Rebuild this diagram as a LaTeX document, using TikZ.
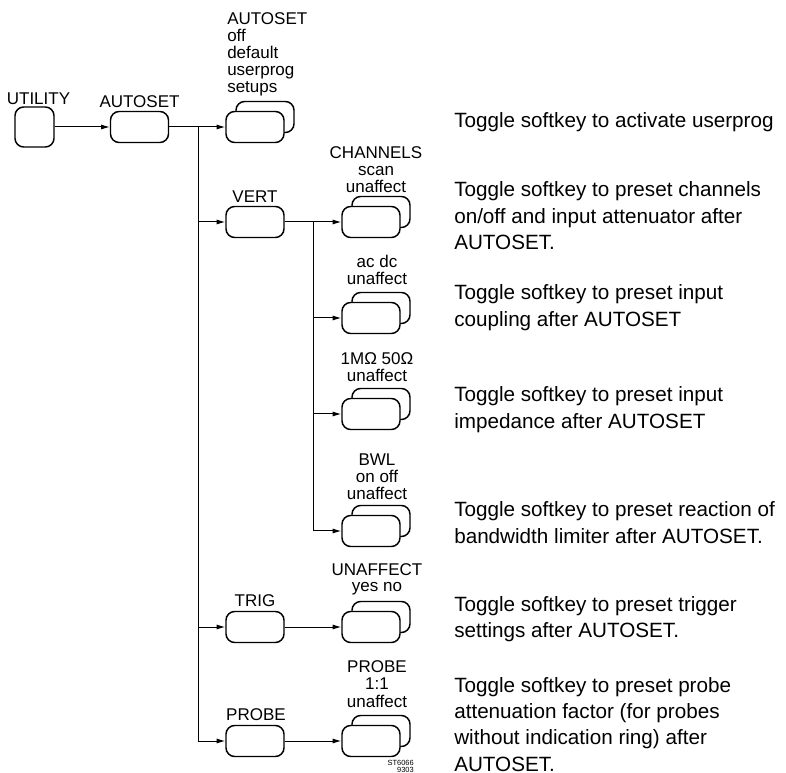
\documentclass[tikz,border=0pt]{standalone}
\usepackage{fontspec}
\setmainfont{Liberation Sans}
\usetikzlibrary{arrows.meta}
\newcommand{\lbl}[1]{\fontsize{12.75}{12.75}\selectfont\begin{tabular}[b]{@{}c@{}}#1\end{tabular}}
\newcommand{\lbll}[1]{\fontsize{12.75}{12.75}\selectfont\begin{tabular}[b]{@{}l@{}}#1\end{tabular}}
\newcommand{\desc}[1]{\fontsize{15.5}{19.8}\selectfont\begin{tabular}[t]{@{}l@{}}#1\end{tabular}}
\begin{document}
\begin{tikzpicture}[x=0.75pt,y=-0.75pt,
  keybox/.style={draw,line width=1.1pt,rounded corners=6.5pt,fill=white,inner sep=0pt,
    minimum width=43.5pt,minimum height=23.25pt},
  utilbox/.style={keybox,minimum width=29.25pt,minimum height=30pt},
  conn/.style={line width=0.75pt},
  arr/.style={conn,-{Latex[length=6.5pt,width=3.8pt]}},
  txt/.style={inner sep=0pt,font=\fontsize{12.75}{12.75}\selectfont},
  desctxt/.style={inner sep=0pt,anchor=base west}]
\useasboundingbox (0,0) rectangle (786,773);
% stacks: back then front
\foreach \n/\x/\y in {s1/255/127, ch/371/222, ac/371/318, imp/371/414, bwl/371/531, un/371/627, pr/371/741}{
  \node[keybox] (\n b) at (\x+10,\y-10) {};
  \node[keybox] (\n) at (\x,\y) {};
}
\node[utilbox] (util) at (34.5,127) {};
\node[keybox] (auto) at (139.5,127) {};
\node[keybox] (vert) at (255,222) {};
\node[keybox] (trig) at (255,627) {};
\node[keybox] (probe) at (255,741) {};
\coordinate (j1) at (198,127);
\coordinate (j2) at (313,222);
% connectors
\draw[arr] (util) -- (auto);
\draw[arr] (auto) -- (s1);
\draw[conn] (j1) -- (198,741);
\draw[arr] (j1) |- (vert.west);
\draw[arr] (j1) |- (trig.west);
\draw[arr] (j1) |- (probe.west);
\draw[arr] (vert) -- (ch);
\draw[conn] (j2) -- (313,531);
\draw[arr] (j2) |- (ac.west);
\draw[arr] (j2) |- (imp.west);
\draw[arr] (j2) |- (bwl.west);
\draw[arr] (trig) -- (un);
\draw[arr] (probe) -- (pr);
% labels
\node[txt,anchor=base] (lutil) at (38.5,105) {UTILITY};
\node[txt,anchor=base] (lauto) at (139.5,108) {AUTOSET};
\node[inner sep=0pt,anchor=base west] (ls1) at (227,93) {\lbll{AUTOSET\\off\\default\\userprog\\setups}};
\node[txt,anchor=base] (lvert) at (255,203) {VERT};
\node[inner sep=0pt,anchor=base] (lch) at (376,193) {\lbl{CHANNELS\\scan\\unaffect}};
\node[inner sep=0pt,anchor=base] (lac) at (377,285) {\lbl{ac dc\\unaffect}};
\node[inner sep=0pt,anchor=base] (limp) at (377,382) {\lbl{1MΩ 50Ω\\unaffect}};
\node[inner sep=0pt,anchor=base] (lbwl) at (377,500) {\lbl{BWL\\on off\\unaffect}};
\node[txt,anchor=base] (ltrig) at (255,606) {TRIG};
\node[inner sep=0pt,anchor=base] (lun) at (377,592) {\lbl{UNAFFECT\\yes no}};
\node[txt,anchor=base] (lprobe) at (256,720) {PROBE};
\node[inner sep=0pt,anchor=base] (lpr) at (377,707) {\lbl{PROBE\\1:1\\unaffect}};
% code
\node[inner sep=0pt,anchor=base east,font=\fontsize{5.6}{4.6}\selectfont] (code1) at (414,765.5) {ST6066};
\node[inner sep=0pt,anchor=base east,font=\fontsize{5.6}{4.6}\selectfont] (code2) at (414,772) {9303};
% descriptions
\node[desctxt] (d1) at (454,128) {\desc{Toggle softkey to activate userprog}};
\node[desctxt] (d2) at (454,197) {\desc{Toggle softkey to preset channels\\on/off and input attenuator after\\AUTOSET.}};
\node[desctxt] (d3) at (454,300) {\desc{Toggle softkey to preset input\\coupling after AUTOSET}};
\node[desctxt] (d4) at (454,402) {\desc{Toggle softkey to preset input\\impedance after AUTOSET}};
\node[desctxt] (d5) at (454,517) {\desc{Toggle softkey to preset reaction of\\bandwidth limiter after AUTOSET.}};
\node[desctxt] (d6) at (454,611) {\desc{Toggle softkey to preset trigger\\settings after AUTOSET.}};
\node[desctxt] (d7) at (454,692) {\desc{Toggle softkey to preset probe\\attenuation factor (for probes\\without indication ring) after\\AUTOSET.}};
\end{tikzpicture}
\end{document}
